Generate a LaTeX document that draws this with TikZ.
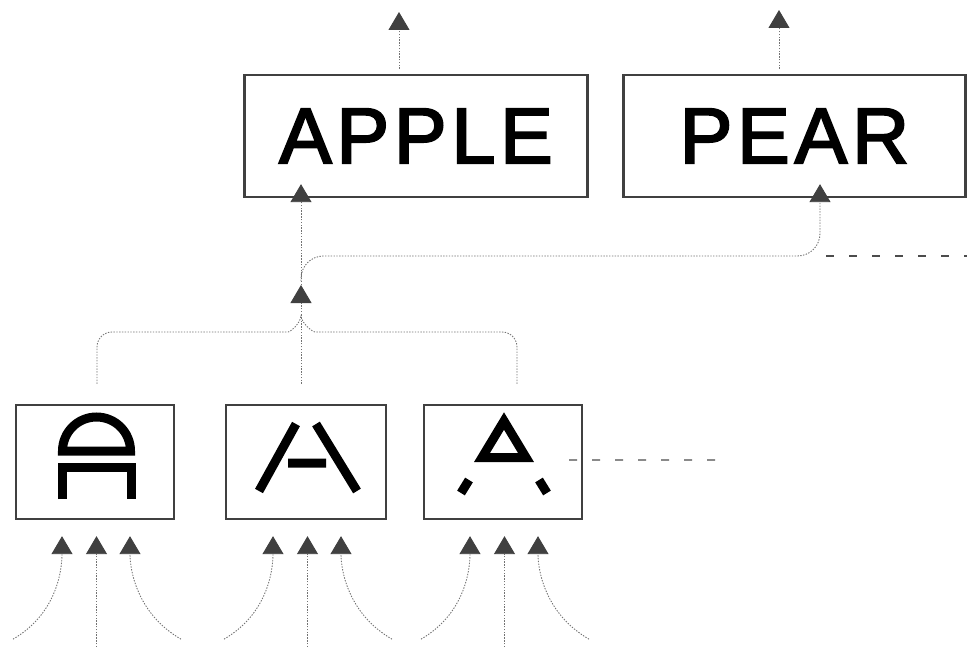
\documentclass[tikz,border=0pt]{standalone}
\usepackage{fontspec}
\setmainfont{Liberation Sans}
\newfontfamily\wordfont{Liberation Sans}[FakeBold=2.5, LetterSpace=6]
\usetikzlibrary{arrows.meta}

\tikzset{
  wordbox/.style={draw=black!75, line width=1.3pt, minimum width=6.86cm, minimum height=2.44cm, inner sep=0pt, font=\wordfont\fontsize{45}{54}\selectfont},
  featbox/.style={draw=black!75, line width=1.3pt, minimum width=3.16cm, minimum height=2.28cm, inner sep=0pt},
  link/.style={draw=black!55, line width=0.5pt, dash pattern=on 0.8pt off 0.8pt},
  uparrow/.style={-{Triangle[width=0.42cm,length=0.36cm,color=black!75]}},
  glyph/.style={line width=0.18cm, line join=miter},
  lateral/.style={draw=black!70, line width=0.8pt, dash pattern=on 0.16cm off 0.3cm}
}

\begin{document}
\begin{tikzpicture}
	\useasboundingbox (0,0) rectangle (19.34,12.92);
	% words
	\node[wordbox] (apple) at (8.32,10.2) {APPLE};
	\node[wordbox, minimum width=6.84cm] (pear) at (15.89,10.2) {PEAR};
	% three forms of the letter A
	\node[featbox] (aRound) at (1.9,3.68) {};
	\node[featbox, minimum width=3.2cm] (aOpen) at (6.12,3.68) {};
	\node[featbox] (aBroken) at (10.06,3.68) {};
	\draw[glyph] (1.25,3.9) arc (180:0:0.68) -- cycle;
	\draw[glyph] (1.25,2.94) -- (1.25,3.58) -- (2.63,3.58) -- (2.63,2.94);
	\draw[glyph] (5.92,4.44) -- (5.18,3.1) (6.32,4.44) -- (7.14,3.1) (5.76,3.66) -- (6.52,3.66);
	\draw[glyph] (10.08,4.5) -- (9.64,3.77) -- (10.52,3.77) -- cycle;
	\draw[glyph] (9.38,3.32) -- (9.22,3.06) (10.78,3.32) -- (10.94,3.06);
	% outputs of the words
	\coordinate (appleup) at (7.98,12.68);
	\coordinate (pearup) at (15.58,12.72);
	\draw[link, uparrow, shorten <=0.1cm] (apple.north -| appleup) -- (appleup);
	\draw[link, uparrow, shorten <=0.1cm] (pear.north -| pearup) -- (pearup);
	% letters merge into one
	\coordinate (merge) at (6.02,6.62);
	\coordinate (mergetip) at (6.02,7.22);
	\draw[link, rounded corners=0.3cm] ([xshift=0.04cm,yshift=0.4cm]aRound.north) |- (5.46,6.28) .. controls (5.8,6.28) and (6.02,6.45) .. (merge);
	\draw[link, rounded corners=0.3cm] ([xshift=0.28cm,yshift=0.4cm]aBroken.north) |- (6.6,6.28) .. controls (6.26,6.28) and (6.02,6.45) .. (merge);
	\draw[link] ([yshift=0.4cm]aOpen.north -| merge) -- (merge);
	\draw[link, uparrow] (merge) -- (mergetip);
	\draw[link, uparrow, shorten >=-0.28cm] (mergetip) -- (apple.south -| mergetip);
	\coordinate (fork) at (6.02,7.8);
	\coordinate (pearin) at ([xshift=0.51cm,yshift=0.28cm]pear.south);
	\draw[link, uparrow, rounded corners=0.45cm] ([yshift=-0.5cm]fork) -- (fork) -- (fork -| pearin) -- (pearin);
	% side connections
	\coordinate (pearfar) at (19.34,7.8);
	\coordinate (sidefar) at (14.44,3.72);
	\draw[lateral] ([xshift=0.12cm]fork -| pearin) -- (pearfar);
	\draw[lateral] ([xshift=-0.28cm,yshift=0.04cm]aBroken.east) -- (sidefar);
	% inputs from below
	\foreach \b in {aRound,aOpen,aBroken} {
		\draw[link, uparrow, shorten >=0.32cm] ([xshift=-1.64cm,yshift=-2.38cm]\b.south) to[out=30,in=-90] ([xshift=-0.66cm]\b.south);
		\draw[link, uparrow, shorten >=0.32cm] ([xshift=0.03cm,yshift=-2.54cm]\b.south) -- ([xshift=0.03cm]\b.south);
		\draw[link, uparrow, shorten >=0.32cm] ([xshift=1.72cm,yshift=-2.38cm]\b.south) to[out=150,in=-90] ([xshift=0.7cm]\b.south);
	}
\end{tikzpicture}
\end{document}
